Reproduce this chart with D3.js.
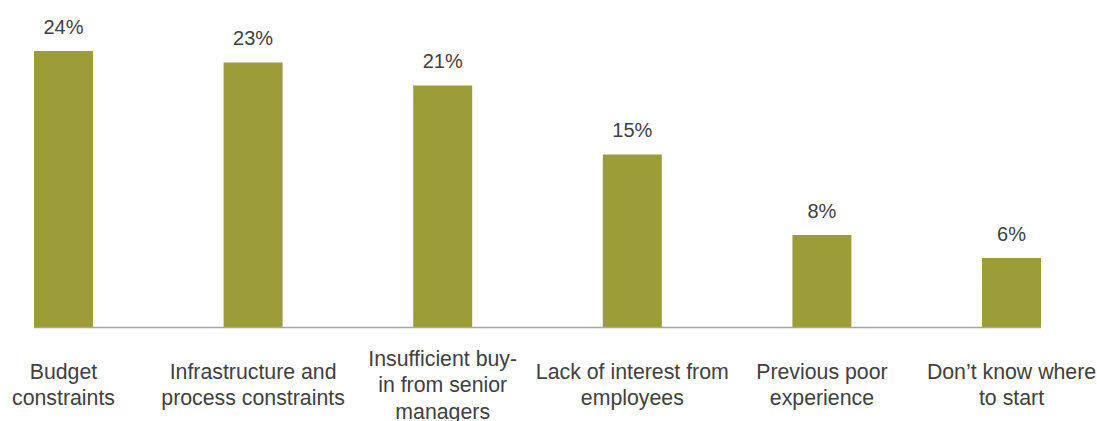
<!DOCTYPE html>
<html>
<head>
<meta charset="utf-8">
<script src="https://cdn.jsdelivr.net/npm/d3@7"></script>
<style>
  html, body { margin: 0; padding: 0; background: #ffffff; }
  svg { display: block; }
  text { font-family: "Liberation Sans", Arial, Helvetica, sans-serif; fill: #404040; }
</style>
</head>
<body>
<svg id="chart" width="1097" height="421"></svg>
<script>
// Barriers to adoption, share of respondents (%)
const categories = [
  "Budget\nconstraints",
  "Infrastructure and\nprocess constraints",
  "Insufficient buy-\nin from senior\nmanagers",
  "Lack of interest from\nemployees",
  "Previous poor\nexperience",
  "Don\u2019t know where\nto start"
];
const values = [24, 23, 21, 15, 8, 6];
const valueLabels = ["24%", "23%", "21%", "15%", "8%", "6%"];

const svg = d3.select("#chart");

const x = d3.scaleBand()
  .domain(categories)
  .range([34, 1041])
  .paddingInner(0.689)
  .paddingOuter(0);

const y = d3.scaleLinear()
  .domain([0, 24])
  .range([327, 51]);

// bars
svg.append("g")
  .selectAll("rect")
  .data(values)
  .join("rect")
  .attr("x", (d, i) => x(categories[i]))
  .attr("y", d => y(d))
  .attr("width", x.bandwidth())
  .attr("height", d => y(0) - y(d))
  .attr("fill", "#9c9d38");

// baseline
svg.append("line")
  .attr("x1", x(categories[0]))
  .attr("x2", x(categories[categories.length - 1]) + x.bandwidth())
  .attr("y1", y(0) + 0.5)
  .attr("y2", y(0) + 0.5)
  .attr("stroke", "#a6a6a6")
  .attr("stroke-width", 1.5);

// value labels
svg.append("g")
  .selectAll("text")
  .data(values)
  .join("text")
  .attr("x", (d, i) => x(categories[i]) + x.bandwidth() / 2)
  .attr("y", d => y(d) - 17.5)
  .attr("text-anchor", "middle")
  .attr("font-size", 20)
  .text((d, i) => valueLabels[i]);

// category labels, vertically centred under the axis
const lineH = 26.5;
const mid = 392;
const cat = svg.append("g")
  .selectAll("text")
  .data(categories)
  .join("text")
  .attr("x", d => x(d) + x.bandwidth() / 2)
  .attr("text-anchor", "middle")
  .attr("font-size", 21.3);

cat.each(function(d) {
  const lines = d.split("\n");
  const first = mid - (lines.length - 1) * lineH / 2;
  d3.select(this).selectAll("tspan")
    .data(lines)
    .join("tspan")
    .attr("x", x(d) + x.bandwidth() / 2)
    .attr("y", (l, i) => first + i * lineH)
    .text(l => l);
});
</script>
</body>
</html>
